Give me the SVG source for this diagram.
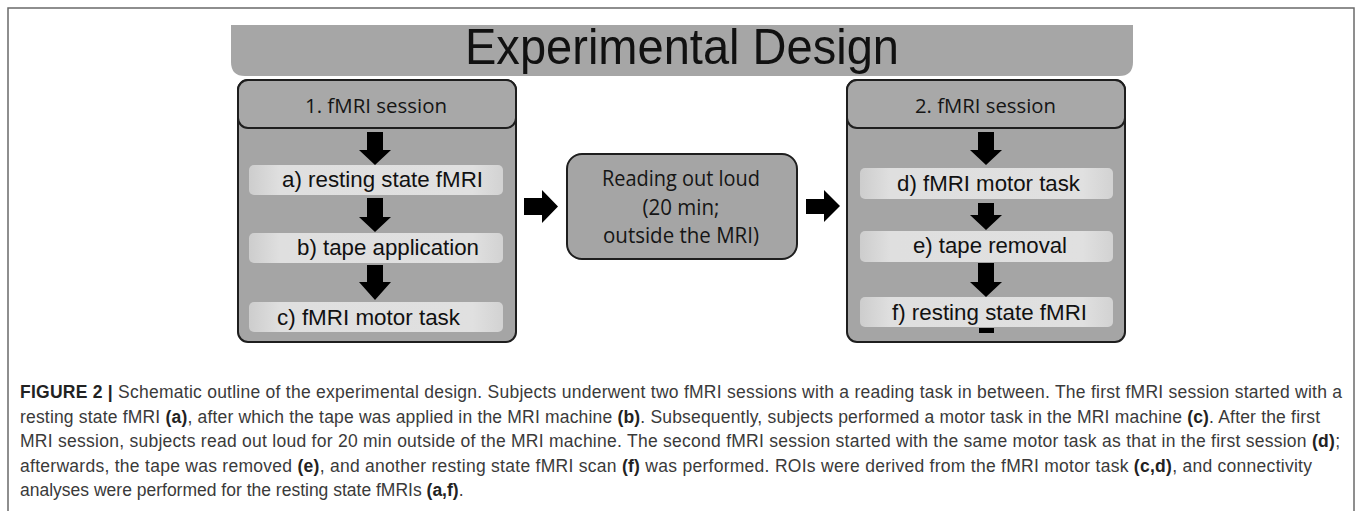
<svg xmlns="http://www.w3.org/2000/svg" width="1358" height="511" viewBox="0 0 1358 511">
<defs>
<linearGradient id="itemGrad" x1="0" y1="0" x2="1" y2="0">
<stop offset="0" stop-color="#cdcdcd"/>
<stop offset="0.12" stop-color="#dfdfdf"/>
<stop offset="0.88" stop-color="#e0e0e0"/>
<stop offset="1" stop-color="#d2d2d2"/>
</linearGradient>
</defs>
<style>
.frame{fill:#fff;stroke:#6a6a6a;stroke-width:1.5}
.banner{fill:#a6a6a6}
.title{font-family:"Liberation Sans Narrow","Liberation Sans",Arial,sans-serif;font-size:50px;fill:#111}
.box{fill:#a5a5a5;stroke:#1e1e1e;stroke-width:2}
.hdr{fill:#a8a8a8;stroke:#1e1e1e;stroke-width:2}
.hdrtxt{font-family:"Open Sans","Noto Sans",sans-serif;font-size:20px;fill:#151515}
.item{fill:url(#itemGrad)}
.itemtxt{font-family:"Liberation Sans",Arial,sans-serif;font-size:22px;fill:#111}
.midtxt{font-family:"Open Sans","Noto Sans",sans-serif;font-size:21px;fill:#151515;text-anchor:middle}
.arrow{fill:#000}
.cap{font-family:"Liberation Sans",Arial,sans-serif;font-size:17.5px;fill:#3a3a3a}
.b{font-weight:bold;fill:#222}
</style>
<rect class="frame" x="8" y="8" width="1346" height="530"/>
<g id="banner">
<path class="banner" d="M231 25 H1133 V62 Q1133 76 1119 76 H245 Q231 76 231 62 Z"/>
<text class="title" x="682" y="64" text-anchor="middle" textLength="434" lengthAdjust="spacingAndGlyphs">Experimental Design</text>
</g>
<g id="session1">
<rect class="box" x="238" y="80" width="278" height="262" rx="10"/>
<rect class="hdr" x="238" y="80" width="278" height="48" rx="10"/>
<text class="hdrtxt" x="305" y="113" textLength="142" lengthAdjust="spacingAndGlyphs">1. fMRI session</text>
</g>
<g id="item-a">
<rect class="item" x="249" y="165" width="254" height="30" rx="5"/>
<text class="itemtxt" x="282" y="187" textLength="201" lengthAdjust="spacingAndGlyphs">a) resting state fMRI</text>
</g>
<g id="item-b">
<rect class="item" x="249" y="233" width="254" height="30" rx="5"/>
<text class="itemtxt" x="297" y="255" textLength="182" lengthAdjust="spacingAndGlyphs">b) tape application</text>
</g>
<g id="item-c">
<rect class="item" x="249" y="302" width="254" height="30" rx="5"/>
<text class="itemtxt" x="277" y="325" textLength="183" lengthAdjust="spacingAndGlyphs">c) fMRI motor task</text>
</g>
<g id="reading">
<rect class="box" x="567" y="154" width="230" height="105" rx="15"/>
<text class="midtxt" x="681" y="186" textLength="158" lengthAdjust="spacingAndGlyphs">Reading out loud</text>
<text class="midtxt" x="681" y="215" textLength="77" lengthAdjust="spacingAndGlyphs">(20 min;</text>
<text class="midtxt" x="681" y="243" textLength="156" lengthAdjust="spacingAndGlyphs">outside the MRI)</text>
</g>
<g id="session2">
<rect class="box" x="847" y="80" width="278" height="262" rx="10"/>
<rect class="hdr" x="847" y="80" width="278" height="48" rx="10"/>
<text class="hdrtxt" x="915" y="113" textLength="141" lengthAdjust="spacingAndGlyphs">2. fMRI session</text>
</g>
<g id="item-d">
<rect class="item" x="860" y="168" width="253" height="31" rx="5"/>
<text class="itemtxt" x="897" y="191" textLength="183" lengthAdjust="spacingAndGlyphs">d) fMRI motor task</text>
</g>
<g id="item-e">
<rect class="item" x="860" y="231" width="253" height="31" rx="5"/>
<text class="itemtxt" x="913" y="253" textLength="154" lengthAdjust="spacingAndGlyphs">e) tape removal</text>
</g>
<g id="item-f">
<rect class="item" x="860" y="297" width="253" height="30" rx="5"/>
<text class="itemtxt" x="892" y="320" textLength="195" lengthAdjust="spacingAndGlyphs">f) resting state fMRI</text>
</g>
<g id="connectors">
<path class="arrow" d="M367 132 H383 V150 H391 L375 165 L359 150 H367 Z"/>
<path class="arrow" d="M367 198 H383 V217 H391 L375 232 L359 217 H367 Z"/>
<path class="arrow" d="M367 265 H383 V282 H391 L375 300 L359 282 H367 Z"/>
<path class="arrow" d="M524 198 V215 H542 V223 L558 206.5 L542 190 V198 Z"/>
<path class="arrow" d="M806 199 V214 H824 V222 L840 206 L824 190 V199 Z"/>
<path class="arrow" d="M978 132 H994 V150 H1002 L986 165 L970 150 H978 Z"/>
<path class="arrow" d="M978 203 H994 V215 H1002 L986 230 L970 215 H978 Z"/>
<path class="arrow" d="M978 263 H994 V282 H1002 L986 297 L970 282 H978 Z"/>
<rect class="arrow" x="979" y="328" width="15" height="5"/>
</g>
<g id="caption">
<text class="cap" x="20" y="398" textLength="1322" lengthAdjust="spacing"><tspan class="b">FIGURE 2 |</tspan> Schematic outline of the experimental design. Subjects underwent two fMRI sessions with a reading task in between. The first fMRI session started with a</text>
<text class="cap" x="20" y="423" textLength="1300" lengthAdjust="spacing">resting state fMRI <tspan class="b">(a)</tspan>, after which the tape was applied in the MRI machine <tspan class="b">(b)</tspan>. Subsequently, subjects performed a motor task in the MRI machine <tspan class="b">(c)</tspan>. After the first</text>
<text class="cap" x="20" y="447" textLength="1320" lengthAdjust="spacing">MRI session, subjects read out loud for 20 min outside of the MRI machine. The second fMRI session started with the same motor task as that in the first session <tspan class="b">(d)</tspan>;</text>
<text class="cap" x="20" y="472" textLength="1292" lengthAdjust="spacing">afterwards, the tape was removed <tspan class="b">(e)</tspan>, and another resting state fMRI scan <tspan class="b">(f)</tspan> was performed. ROIs were derived from the fMRI motor task <tspan class="b">(c,d)</tspan>, and connectivity</text>
<text class="cap" x="20" y="496">analyses were performed for the resting state fMRIs <tspan class="b">(a,f)</tspan>.</text>
</g>
</svg>
